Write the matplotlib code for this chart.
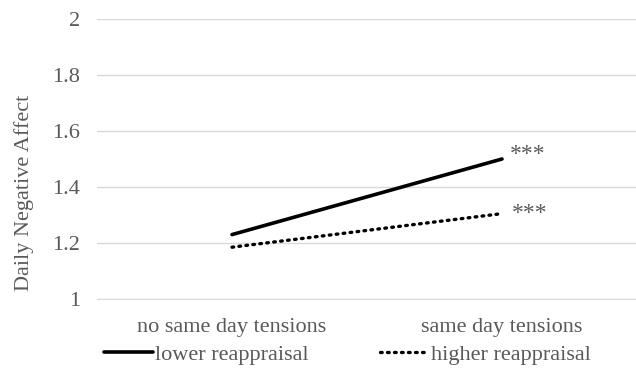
import matplotlib
matplotlib.use("Agg")
import matplotlib.pyplot as plt

categories = ["no same day tensions", "same day tensions"]
lower_reappraisal = [1.23, 1.50]
higher_reappraisal = [1.185, 1.305]
yticks = [1, 1.2, 1.4, 1.6, 1.8, 2]
ytick_labels = ["1", "1.2", "1.4", "1.6", "1.8", "2"]

plt.rcParams['font.family'] = ['Liberation Serif', 'DejaVu Serif']
txt = '#595959'

fig = plt.figure(figsize=(6.36, 3.79), dpi=100)
ax = fig.add_axes([97/636, 1 - 299/379, 540/636, 280/379])

x = [0, 1]
ax.plot(x, lower_reappraisal, color='black', lw=2.6, solid_capstyle='round',
        label='lower reappraisal')
ax.plot(x, higher_reappraisal, color='black', lw=2.4, linestyle=(0, (0.5, 1.6)),
        dash_capstyle='round', label='higher reappraisal')

ax.text(1.03, lower_reappraisal[1] + 0.017, '***', color=txt, fontsize=17, va='center')
ax.text(1.035, higher_reappraisal[1] + 0.002, '***', color=txt, fontsize=17, va='center')

ax.set_xlim(-0.5, 1.5)
ax.set_ylim(1, 2)
ax.set_yticks(yticks)
ax.set_yticklabels(ytick_labels)
ax.set_xticks(x)
ax.set_xticklabels(categories)
ax.yaxis.grid(True, color='#d9d9d9', lw=1)
ax.set_axisbelow(True)
for s in ax.spines.values():
    s.set_visible(False)
ax.spines['bottom'].set_visible(True)
ax.spines['bottom'].set_color('#d9d9d9')
ax.tick_params(length=0, colors=txt, labelsize=16)
ax.tick_params(axis='y', pad=12)
ax.tick_params(axis='x', pad=14)
ax.set_ylabel('Daily Negative Affect', color=txt, fontsize=16)
ax.yaxis.set_label_coords(-0.117, 0.38)

leg = fig.legend(loc='lower center', bbox_to_anchor=(0.546, -0.015), ncol=2, frameon=False,
                 fontsize=16, labelcolor=txt, handlelength=2.2, handletextpad=0.1,
                 columnspacing=3.2)

fig.savefig('out.png', dpi=100)
